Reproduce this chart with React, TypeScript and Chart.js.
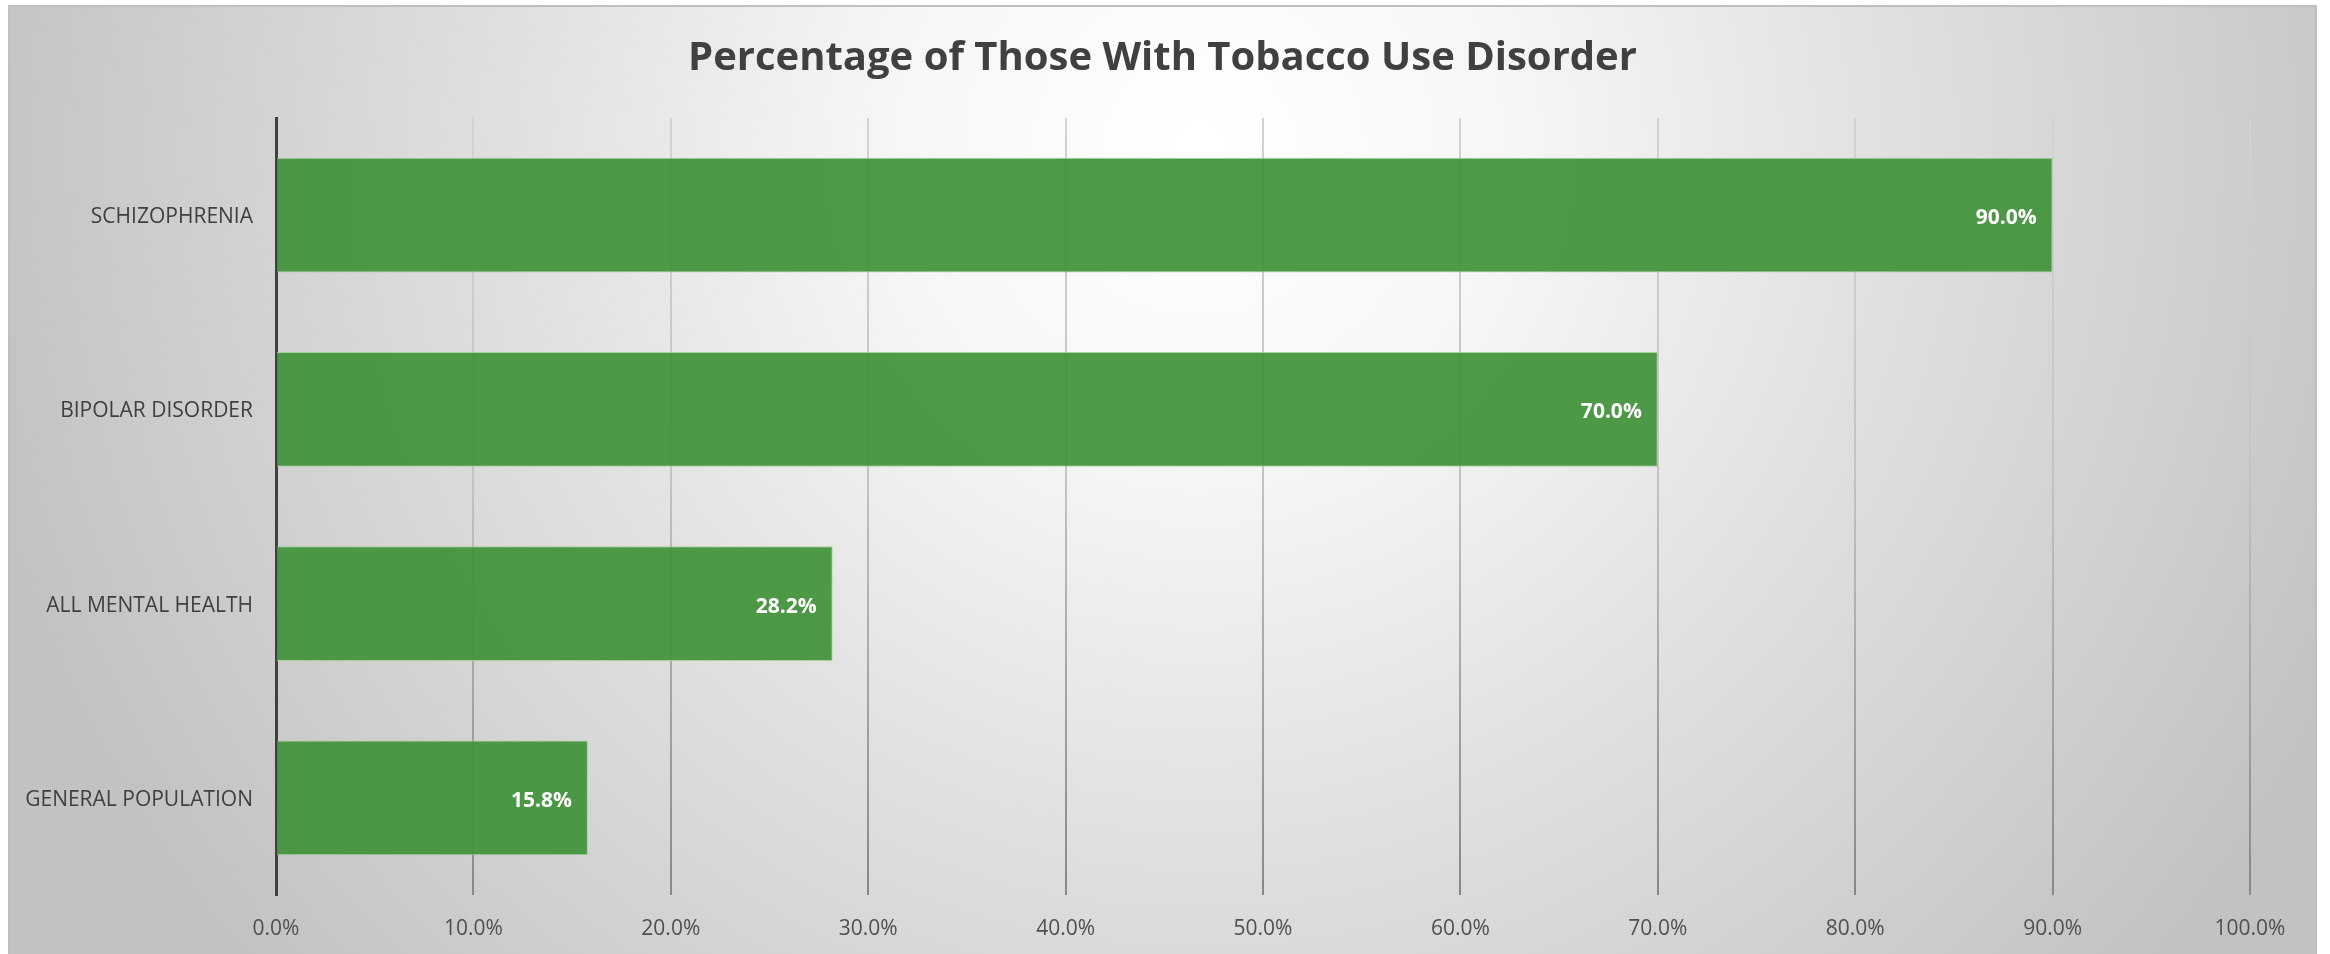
import React, { useEffect, useRef } from "react";
import { Chart, registerables } from "chart.js";

Chart.register(...registerables);

const TITLE = "Percentage of Those With Tobacco Use Disorder";
const categories = ["SCHIZOPHRENIA", "BIPOLAR DISORDER", "ALL MENTAL HEALTH", "GENERAL POPULATION"];
const percentValues = [90.0, 70.0, 28.2, 15.8];
const xTickMin = 0;
const xTickMax = 100;
const xTickStep = 10;

const W = 2330;
const H = 954;
const FONT = "'Open Sans', 'Noto Sans', sans-serif";

const fmt = (v: number) => v.toFixed(1) + "%";

const backgroundPlugin = {
  id: "frameBackground",
  beforeDraw(chart: any) {
    const { ctx } = chart;
    ctx.save();
    ctx.fillStyle = "#ffffff";
    ctx.fillRect(0, 0, W, H);
    const x0 = 9, y0 = 6, x1 = 2316, y1 = H + 2;
    const g = ctx.createRadialGradient(1200, 150, 0, 1200, 150, 1250);
    g.addColorStop(0, "#ffffff");
    g.addColorStop(0.25, "#f6f6f6");
    g.addColorStop(0.55, "#e0e0e0");
    g.addColorStop(1, "#c2c2c2");
    ctx.fillStyle = g;
    ctx.fillRect(x0, y0, x1 - x0, y1 - y0);
    ctx.strokeStyle = "#bfbfbf";
    ctx.lineWidth = 2;
    ctx.strokeRect(x0, y0, x1 - x0, y1 - y0);
    // chart title, centred on the frame
    ctx.fillStyle = "#404040";
    ctx.font = `bold 40px ${FONT}`;
    ctx.textAlign = "center";
    ctx.textBaseline = "middle";
    ctx.fillText(TITLE, (x0 + x1) / 2, 59);
    ctx.restore();
  },
};

const dataLabelPlugin = {
  id: "barValueLabels",
  afterDatasetsDraw(chart: any) {
    const { ctx } = chart;
    const meta = chart.getDatasetMeta(0);
    const data = chart.data.datasets[0].data as number[];
    ctx.save();
    ctx.fillStyle = "#ffffff";
    ctx.font = `bold 21px ${FONT}`;
    ctx.textAlign = "right";
    ctx.textBaseline = "middle";
    meta.data.forEach((bar: any, i: number) => {
      ctx.fillText(fmt(data[i]), bar.x - 16, bar.y + 3);
    });
    ctx.restore();
  },
};

export default function App() {
  const ref = useRef<HTMLCanvasElement | null>(null);

  useEffect(() => {
    if (!ref.current) return;
    const gridColor = (c: any) => {
      const chart = c.chart;
      const area = chart.chartArea;
      if (!area) return "#b0b0b0";
      const g = chart.ctx.createLinearGradient(0, area.top, 0, area.bottom);
      g.addColorStop(0, "#d2d2d2");
      g.addColorStop(0.45, "#c4c4c4");
      g.addColorStop(1, "#888888");
      return g;
    };
    const chart = new Chart(ref.current, {
      type: "bar",
      data: {
        labels: categories,
        datasets: [
          {
            data: percentValues,
            backgroundColor: "rgba(66,146,58,0.93)",
            borderColor: "rgba(160,210,150,0.9)",
            borderWidth: 1,
            barPercentage: 0.59,
            categoryPercentage: 1,
          },
        ],
      },
      options: {
        indexAxis: "y",
        responsive: false,
        animation: false,
        devicePixelRatio: 1,
        layout: { padding: { left: 0, right: 80, top: 118, bottom: 0 } },
        plugins: {
          legend: { display: false },
          tooltip: { enabled: false },
          title: { display: false },
        },
        scales: {
          x: {
            min: xTickMin,
            max: xTickMax,
            ticks: {
              stepSize: xTickStep,
              callback: (v: any) => fmt(Number(v)),
              color: "#505050",
              font: { family: FONT, size: 21 },
              padding: 21,
              maxRotation: 0,
            },
            grid: { color: gridColor, lineWidth: 2, drawTicks: false },
            border: { display: false },
            afterFit: (s: any) => {
              s.height = 59;
            },
          },
          y: {
            ticks: {
              color: "#404040",
              font: { family: FONT, size: 21 },
              padding: 23,
              labelOffset: 2,
            },
            grid: { display: false, drawTicks: false },
            border: { display: true, color: "#404040", width: 3 },
            afterFit: (s: any) => {
              s.width = 276;
            },
          },
        },
      },
      plugins: [backgroundPlugin, dataLabelPlugin],
    });
    return () => chart.destroy();
  }, []);

  return (
    <div style={{ position: "fixed", left: 0, top: 0, width: W, height: H, background: "#fff" }}>
      <canvas ref={ref} width={W} height={H} style={{ width: W, height: H, display: "block" }} />
    </div>
  );
}
